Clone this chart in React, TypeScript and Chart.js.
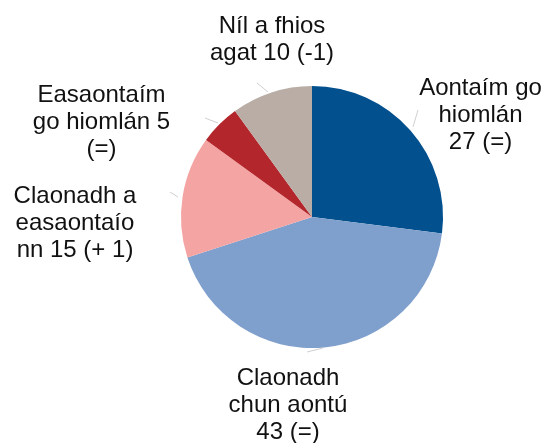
import React, { useEffect, useRef } from "react";
import { Chart, registerables } from "chart.js";

Chart.register(...registerables);

const categories = [
  "Aontaím go hiomlán",
  "Claonadh chun aontú",
  "Claonadh a easaontaíonn",
  "Easaontaím go hiomlán",
  "Níl a fhios agat",
];
const values = [27, 43, 15, 5, 10];
const changes = ["(=)", "(=)", "(+ 1)", "(=)", "(-1)"];
const labelLines = [
  ["Aontaím go", "hiomlán", "27 (=)"],
  ["Claonadh", "chun aontú", "43 (=)"],
  ["Claonadh a", "easaontaío", "nn 15 (+ 1)"],
  ["Easaontaím", "go hiomlán 5", "(=)"],
  ["Níl a fhios", "agat 10 (-1)"],
];
const colors = ["#03508e", "#7f9fcc", "#f4a4a2", "#b3262c", "#b9ada6"];

// label placement relative to pie centre: [dx of text centre, dy of first baseline]
const labelOffsets = [
  [168.5, -122],
  [-24, 168],
  [-237, -14],
  [-210.5, -115],
  [-40, -184],
];
// leader lines relative to pie centre
const leaderOffsets = [
  [106, -107, 101, -90],
  [-5, 135, 11, 131],
  [-142, -25, -134, -20],
  [-107, -99, -94, -94],
  [-55, -134, -44, -125],
];

const labelPlugin = {
  id: "pieLabels",
  afterDraw(chart: any) {
    const ctx = chart.ctx;
    const meta = chart.getDatasetMeta(0);
    if (!meta.data.length) return;
    const cx = meta.data[0].x;
    const cy = meta.data[0].y;
    ctx.save();
    ctx.strokeStyle = "#cfcfcf";
    ctx.lineWidth = 1;
    leaderOffsets.forEach((l) => {
      ctx.beginPath();
      ctx.moveTo(cx + l[0], cy + l[1]);
      ctx.lineTo(cx + l[2], cy + l[3]);
      ctx.stroke();
    });
    ctx.fillStyle = "#111111";
    ctx.font = "24px Arial, 'Liberation Sans', sans-serif";
    ctx.textAlign = "center";
    ctx.textBaseline = "alphabetic";
    labelLines.forEach((lines, i) => {
      const [dx, dy] = labelOffsets[i];
      lines.forEach((t, j) => {
        ctx.fillText(t, cx + dx, cy + dy + j * 26.8);
      });
    });
    ctx.restore();
  },
};

export default function App() {
  const ref = useRef<HTMLCanvasElement>(null);
  useEffect(() => {
    document.body.style.margin = "0";
    const chart = new Chart(ref.current!, {
      type: "pie",
      data: {
        labels: categories.map((c, i) => `${c} ${values[i]} ${changes[i]}`),
        datasets: [
          {
            data: values,
            backgroundColor: colors,
            borderWidth: 0,
            hoverOffset: 0,
            offset: 0,
          },
        ],
      },
      options: {
        animation: false,
        responsive: true,
        maintainAspectRatio: false,
        rotation: 0,
        layout: { padding: { top: 86, bottom: 95, left: 181, right: 101 } },
        plugins: {
          legend: { display: false },
          tooltip: { enabled: false },
        },
      },
      plugins: [labelPlugin],
    });
    return () => chart.destroy();
  }, []);
  return (
    <div style={{ position: "fixed", left: 0, top: 0, width: 544, height: 443, background: "#fff" }}>
      <canvas ref={ref} />
    </div>
  );
}
